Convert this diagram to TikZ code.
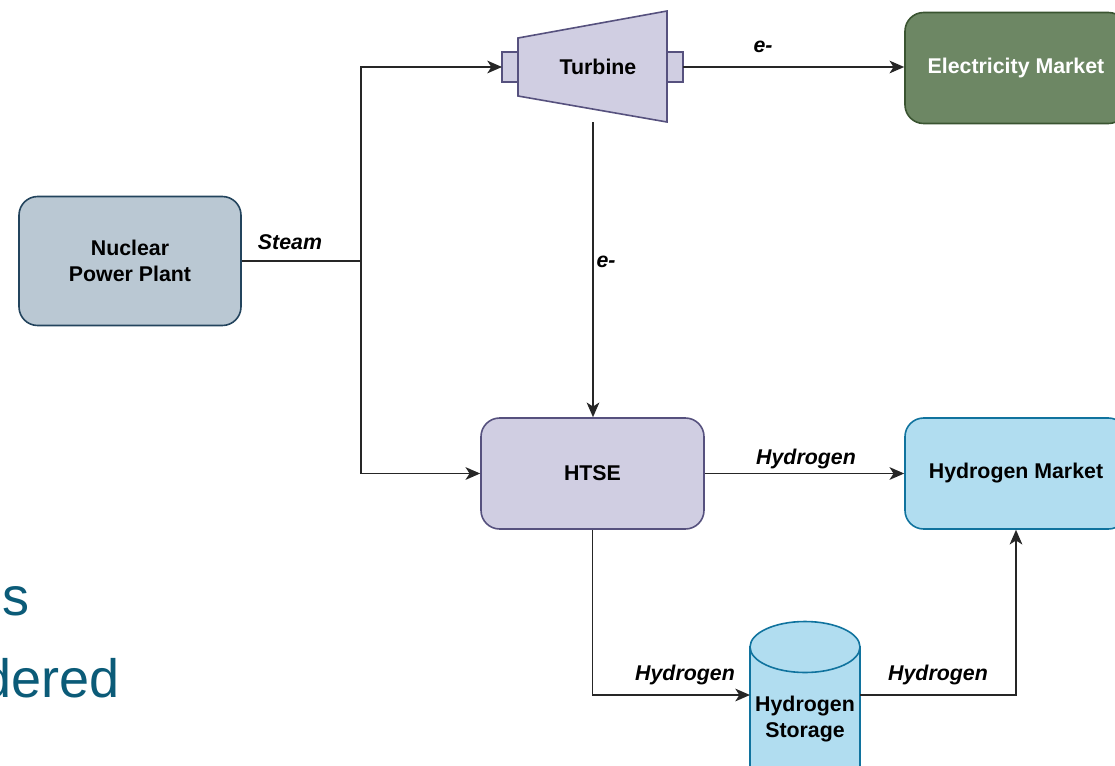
\documentclass[tikz,border=0pt]{standalone}
\usepackage{fontspec}
\setmainfont{Liberation Sans}
\usetikzlibrary{arrows.meta}
\definecolor{npfill}{HTML}{BAC8D3}
\definecolor{npdraw}{HTML}{23445D}
\definecolor{pufill}{HTML}{D0CEE2}
\definecolor{pudraw}{HTML}{56517E}
\definecolor{gnfill}{HTML}{6D8764}
\definecolor{gndraw}{HTML}{3A5431}
\definecolor{blfill}{HTML}{B1DDF0}
\definecolor{bldraw}{HTML}{10739E}
\definecolor{tealtxt}{HTML}{0B5B78}
\definecolor{ln}{HTML}{262626}
\begin{document}
\begin{tikzpicture}[x=0.75pt,y=-0.75pt,
  box/.style={draw, line width=1.2pt, rounded corners=14pt, font=\bfseries\fontsize{16}{19.5}\selectfont, align=center, inner sep=0pt},
  conn/.style={draw=ln, line width=1.3pt, -{Stealth[length=11pt,width=9.5pt,inset=3pt]}},
  plain/.style={draw=ln, line width=1.3pt},
  lbl/.style={font=\bfseries\itshape\fontsize{16}{19}\selectfont, text=black},
  shp/.style={line width=1.2pt}]
\useasboundingbox (0,0) rectangle (1115,765);
\clip (0,0) rectangle (1115,765);

% background slide text
\node[anchor=base east, text=tealtxt, font=\fontsize{40.5}{48}\selectfont, inner sep=0pt] (t1) at (30,615) {s};
\node[anchor=base east, text=tealtxt, font=\fontsize{40.5}{48}\selectfont, inner sep=0pt] (t2) at (120,697) {dered};

% nodes
\node[box, fill=npfill, draw=npdraw, minimum width=166.5pt, minimum height=96.75pt] (npp) at (130,261) {Nuclear\\Power Plant};
\node[box, fill=pufill, draw=pudraw, minimum width=167.25pt, minimum height=83.25pt] (htse) at (592.5,473.5) {HTSE};
\node[box, fill=blfill, draw=bldraw, minimum width=166.5pt, minimum height=83.25pt] (hm) at (1016,473.5) {Hydrogen Market};
\node[box, fill=gnfill, draw=gndraw, text=white, minimum width=166.5pt, minimum height=83.25pt] (em) at (1016,68) {Electricity Market};

% turbine
\draw[shp, fill=pufill, draw=pudraw] (502,52) rectangle (518,82);
\draw[shp, fill=pufill, draw=pudraw] (667,52) rectangle (683,82);
\draw[shp, fill=pufill, draw=pudraw] (518,38) -- (667,11) -- (667,122) -- (518,96) -- cycle;
\node[font=\bfseries\fontsize{16}{19}\selectfont] (turb) at (598,67) {Turbine};
\coordinate (tin) at (502,67);
\coordinate (tout) at (683,67);
\coordinate (tbot) at (593,122);

% storage cylinder
\draw[shp, fill=blfill, draw=bldraw] (750,647) rectangle (860,840);
\draw[shp, fill=blfill, draw=bldraw] (805,647) ellipse [x radius=55, y radius=25.5];
\node[font=\bfseries\fontsize{16}{19.5}\selectfont, align=center] (hs) at (805,719) {Hydrogen\\Storage};
\coordinate (cin) at (750,695);
\coordinate (cout) at (860,695);

% junctions
\coordinate (jn) at (361,261);
\coordinate (jt) at (361,67);

% connectors
\draw[plain] (npp.east) -- (jn);
\draw[conn] (jn) -- (jt) -- (tin);
\draw[conn] (jn) |- (htse.west);
\draw[conn] (tout) -- (tout -| em.west);
\draw[conn] (tbot) -- (tbot |- htse.north);
\draw[conn] (htse.east) -- (hm.west);
\draw[conn] (htse.south) |- (cin);
\draw[conn] (cout) -| (hm.south);

% labels
\node[lbl] (l1) at (290,242) {Steam};
\node[lbl] (l2) at (763,47) {e-};
\node[lbl] (l3) at (606,262) {e-};
\node[lbl] (l4) at (806,459) {Hydrogen};
\node[lbl] (l5) at (685,675) {Hydrogen};
\node[lbl] (l6) at (938,675) {Hydrogen};
\end{tikzpicture}
\end{document}
